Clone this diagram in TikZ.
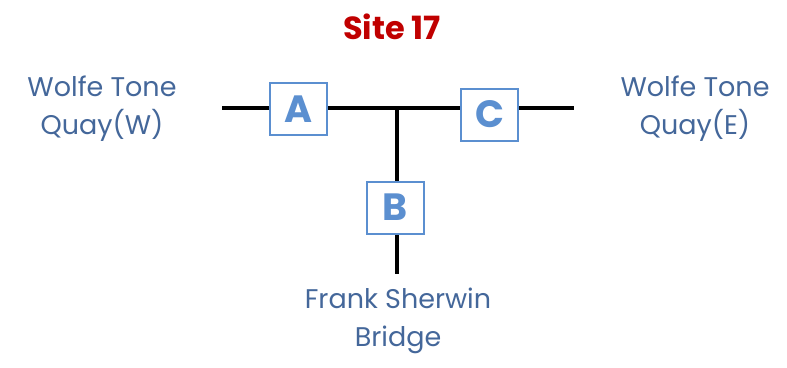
\documentclass[tikz,border=0pt]{standalone}
\usepackage{fontspec}
\setmainfont{Poppins}
\definecolor{lbl}{HTML}{44679A}
\definecolor{boxc}{HTML}{5B8FD0}
\definecolor{ttl}{HTML}{C00000}
\begin{document}
\begin{tikzpicture}[x=1pt,y=-1pt,
  sbox/.style={draw=boxc,line width=2pt,fill=white,minimum width=57pt,minimum height=52pt,inner sep=0pt,text=boxc,font=\fontsize{38}{38}\selectfont\bfseries},
  lab/.style={text=lbl,align=center,font=\fontsize{27}{38}\selectfont},
  wire/.style={line width=4pt,black}]
\useasboundingbox (0,0) rectangle (787,367);
\coordinate (wl) at (222,107.5);
\coordinate (wr) at (574,107.5);
\coordinate (jn) at (397,107.5);
\coordinate (bt) at (397,274);
\draw[wire] (wl) -- (wr);
\draw[wire] (jn) -- (bt);
\node[sbox] (A) at (298,109) {A};
\node[sbox] (C) at (489.5,114.5) {C};
\node[sbox] (B) at (395,207.5) {B};
\node[text=ttl,font=\fontsize{32}{32}\selectfont\bfseries] (t) at (392,27) {Site 17};
\node[lab] (w) at (102,109) {Wolfe Tone\\Quay(W)};
\node[lab] (e) at (695,109) {Wolfe Tone\\Quay(E)};
\node[lab] (f) at (398,321) {Frank Sherwin\\Bridge};
\end{tikzpicture}
\end{document}
